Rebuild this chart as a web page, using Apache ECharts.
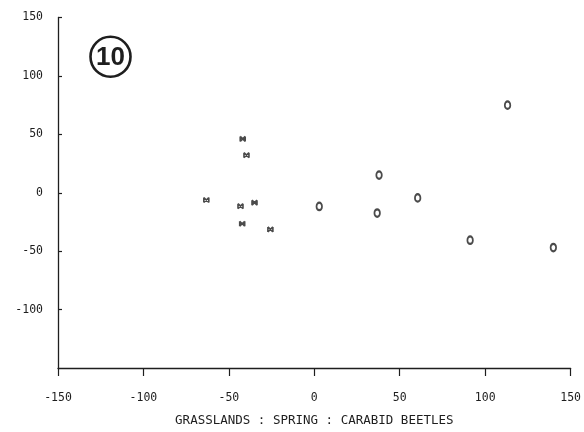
<!DOCTYPE html>
<html>
<head>
<meta charset="utf-8">
<script src="https://cdn.jsdelivr.net/npm/echarts@6/dist/echarts.min.js"></script>
<style>
  html, body { margin: 0; padding: 0; background: #ffffff; }
  #chart { width: 584px; height: 432px; }
</style>
</head>
<body>
<div id="chart"></div>
<script>
// Ordination scores, spring carabid beetle samples in grasslands
const starX = [-41.9, -39.7, -63.2, -43.2, -35.0, -42.2, -25.7];
const starY = [46.1, 32.2, -6.2, -11.5, -8.5, -26.5, -31.4];
const ringX = [113.1, 37.9, 2.9, 60.5, 36.8, 91.2, 139.9];
const ringY = [75.0, 15.1, -11.7, -4.4, -17.4, -40.6, -46.9];

const axisMin = -150;
const axisMax = 150;
const tickStep = 50;
const xTitle = 'GRASSLANDS : SPRING : CARABID BEETLES';
const panelNumber = '10';

const ink = '#1e1e1e';
const monoFont = '"DejaVu Sans Mono", "Liberation Mono", monospace';

function pairs(xs, ys) {
  return xs.map((x, i) => [x, ys[i]]);
}

const chart = echarts.init(document.getElementById('chart'), null, { renderer: 'canvas' });

chart.setOption({
  backgroundColor: '#ffffff',
  animation: false,
  grid: { left: 58, right: 13, top: 17.5, bottom: 62.5, containLabel: false },
  xAxis: {
    type: 'value',
    min: axisMin,
    max: axisMax,
    interval: tickStep,
    name: xTitle,
    nameLocation: 'middle',
    nameGap: 46,
    nameTextStyle: { color: ink, fontFamily: monoFont, fontSize: 12.5 },
    splitLine: { show: false },
    axisLine: { onZero: false, lineStyle: { color: ink, width: 1.3 } },
    axisTick: { inside: false, length: 8, lineStyle: { color: ink, width: 1.2 } },
    axisLabel: { color: ink, fontFamily: monoFont, fontSize: 11.5, margin: 24 }
  },
  yAxis: {
    type: 'value',
    min: axisMin,
    max: axisMax,
    interval: tickStep,
    splitLine: { show: false },
    axisLine: { onZero: false, lineStyle: { color: ink, width: 1.3 } },
    axisTick: { inside: true, length: 4, lineStyle: { color: ink, width: 1.2 } },
    axisLabel: {
      color: ink, fontFamily: monoFont, fontSize: 11.5, margin: 15,
      padding: [0, 0, 7, 0], showMinLabel: false
    }
  },
  graphic: [
    {
      type: 'circle',
      shape: { cx: 110.5, cy: 56.7, r: 20 },
      style: { fill: 'none', stroke: ink, lineWidth: 2.6 }
    },
    {
      type: 'text',
      x: 110.5,
      y: 57.5,
      style: {
        text: panelNumber,
        fill: ink,
        font: 'bold 26px "Liberation Sans", "Noto Sans", sans-serif',
        align: 'center',
        verticalAlign: 'middle'
      }
    }
  ],
  series: [
    {
      type: 'scatter',
      data: pairs(starX, starY),
      symbol: 'path://M0,0 L0,10 M10,0 L10,10 M0,0 L10,10 M10,0 L0,10',
      symbolSize: [5, 5],
      itemStyle: { color: 'rgba(0,0,0,0)', borderColor: ink, borderWidth: 1.6 },
      emphasis: { disabled: true }
    },
    {
      type: 'scatter',
      data: pairs(ringX, ringY),
      symbol: 'emptyCircle',
      symbolSize: [5.5, 7.5],
      itemStyle: { color: ink, borderColor: ink, borderWidth: 1.3 },
      emphasis: { disabled: true }
    }
  ]
});
</script>
</body>
</html>
